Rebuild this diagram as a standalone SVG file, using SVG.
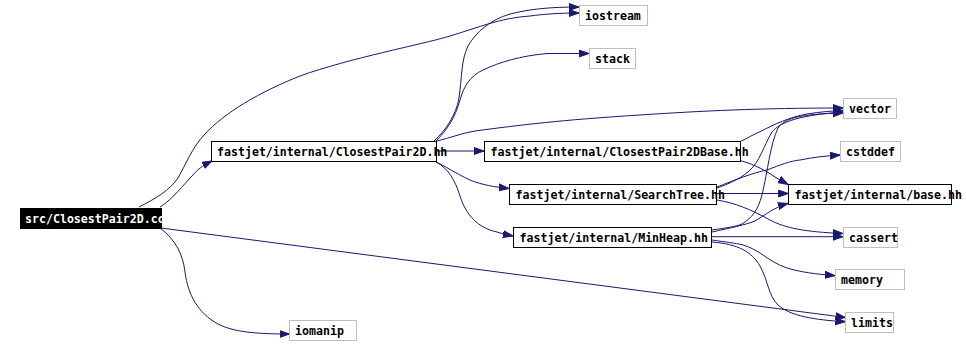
<svg xmlns="http://www.w3.org/2000/svg" width="966" height="345" viewBox="0 0 966 345">
<style>
text{font-family:"DejaVu Sans Mono","Liberation Mono",monospace;font-size:11.6px;font-weight:bold;fill:#000}
.n rect{fill:#fff;stroke:#000;stroke-width:1}
.x rect{fill:#fff;stroke:#bfbfbf;stroke-width:1}
.s rect{fill:#000;stroke:#000}
.s text{fill:#fff}
#edges path{fill:none;stroke:#191970;stroke-width:1;marker-end:url(#ah)}
</style>
<defs>
<marker id="ah" markerUnits="userSpaceOnUse" markerWidth="12" markerHeight="9" refX="10" refY="4" orient="auto">
<path d="M0,0.5 L10,4 L0,7.5 z" fill="#191970" stroke="#191970" stroke-width="1"/>
</marker>
</defs>
<rect width="966" height="345" fill="#fff"/>
<g id="edges">
<path d="M160,207 C173,199 183,185 193,175 C197,170 202,166 212,161"/>
<path d="M139,207 C155,199 170,190 178,178 C186,164 192,148 204,135 C225,112 260,92 300,76 C350,58 420,45 450,36 C480,27 500,18 530,16 C545,14 560,13 579,13"/>
<path d="M160,228 C176,240 183,255 185,272 C188,295 198,313 218,324 C234,332 255,334 289.5,334"/>
<path d="M161,228 L845.5,317.5"/>
<path d="M434,141 C446,130 456,115 459,98 C462,78 461,60 468,46 C476,32 490,20 510,14 C530,9 550,7 579,7"/>
<path d="M436,141 C447,130 455,118 460,100 C464,86 470,76 483,70 C500,62 520,56 547,53.5 L589,53.5"/>
<path d="M437,141 C450,138 462,133 475,131 C520,125 560,120 640,115 C700,111 760,108 843,108"/>
<path d="M436,151 L484,151"/>
<path d="M436,162 C445,166 455,173 470,180 C482,185 495,187 509,188.5"/>
<path d="M436,162 C448,168 455,180 460,196 C466,215 478,228 497,232 C503,234 508,235 513,236"/>
<path d="M740,141.7 C748,138 754,134 760,131.7 C775,124 790,117 807,114 C820,112 830,111 843,110.5"/>
<path d="M738,160 C750,163 762,168 775,177 L788,184.5"/>
<path d="M717,188 C728,184 738,180 748,172 C760,162 764,145 772,132 C780,122 800,115 843,112"/>
<path d="M717,187 C735,180 752,173 767,170 C780,165 790,161 800,160 C815,157 825,156 840,155"/>
<path d="M717,193.5 L788.3,193.5"/>
<path d="M717,200 C735,203 750,209 770,220 C785,228 805,232 843,233.5"/>
<path d="M712,230 C725,228 735,227 742,224 C752,218 758,210 762,195 C768,170 770,145 778,128 C785,118 800,114 843,113"/>
<path d="M712,232 C730,228 745,225 755,221 C765,215 775,207 788,203.3"/>
<path d="M712,236.7 L843,236.7"/>
<path d="M712,240 C725,242 735,243 743,245 C750,247 755,250 760,253 C770,260 778,265 787,268 C800,272 815,274 835,275.7"/>
<path d="M712,242 C738,244 752,252 760,266 C768,280 768,295 778,305 C790,316 815,320 845.5,321.7"/>
</g>
<g id="node_src" class="s"><rect x="20.5" y="208.5" width="141" height="20"/><text x="25" y="223">src/ClosestPair2D.cc</text></g>
<g id="node_cp2d" class="n"><rect x="211.5" y="141.5" width="225" height="20"/><text x="217" y="156">fastjet/internal/ClosestPair2D.hh</text></g>
<g id="node_iostream" class="x"><rect x="579.5" y="5.5" width="68" height="20"/><text x="585" y="20">iostream</text></g>
<g id="node_stack" class="x"><rect x="589.5" y="48.5" width="46" height="20"/><text x="595" y="63">stack</text></g>
<g id="node_vector" class="x"><rect x="843.5" y="98.5" width="53" height="20"/><text x="849" y="113">vector</text></g>
<g id="node_cp2dbase" class="n"><rect x="484.5" y="141.5" width="256" height="20"/><text x="490.5" y="156">fastjet/internal/ClosestPair2DBase.hh</text></g>
<g id="node_cstddef" class="x"><rect x="840.5" y="141.5" width="60" height="20"/><text x="846" y="156">cstddef</text></g>
<g id="node_searchtree" class="n"><rect x="509.5" y="184.5" width="207" height="20"/><text x="515.5" y="199">fastjet/internal/SearchTree.hh</text></g>
<g id="node_base" class="n"><rect x="788.5" y="184.5" width="163" height="20"/><text x="794.5" y="199">fastjet/internal/base.hh</text></g>
<g id="node_minheap" class="n"><rect x="513.5" y="227.5" width="198" height="20"/><text x="519.5" y="242">fastjet/internal/MinHeap.hh</text></g>
<g id="node_cassert" class="x"><rect x="843.5" y="227.5" width="54" height="20"/><text x="849" y="242">cassert</text></g>
<g id="node_memory" class="x"><rect x="835.5" y="269.5" width="69" height="20"/><text x="841" y="284">memory</text></g>
<g id="node_limits" class="x"><rect x="845.5" y="312.5" width="48" height="20"/><text x="851" y="327">limits</text></g>
<g id="node_iomanip" class="x"><rect x="289.5" y="320.5" width="67" height="20"/><text x="295" y="335">iomanip</text></g>
</svg>
